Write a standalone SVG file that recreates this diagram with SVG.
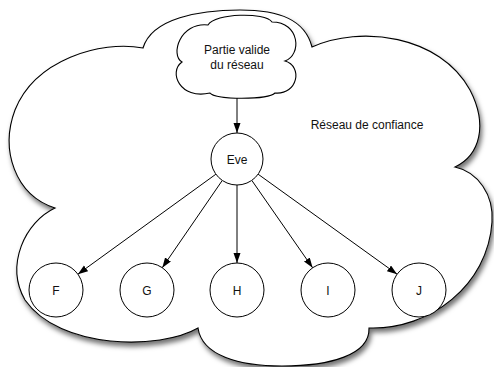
<svg xmlns="http://www.w3.org/2000/svg" width="494" height="367" viewBox="0 0 494 367">
  <defs>
    <filter id="shadow" x="-10%" y="-10%" width="125%" height="125%">
      <feDropShadow dx="2" dy="4" stdDeviation="2.5" flood-color="#000" flood-opacity="0.55"/>
    </filter>
    <marker id="arrow" markerUnits="userSpaceOnUse" markerWidth="11" markerHeight="8" refX="10" refY="3.5" orient="auto">
      <path d="M0,0 L10,3.5 L0,7 z" fill="#000"/>
    </marker>
    <style>
      .cloud { fill: #fff; stroke: #000; stroke-width: 1.1; }
      .node { fill: #fff; stroke: #000; stroke-width: 1; }
      .edge { stroke: #000; stroke-width: 1; fill: none; marker-end: url(#arrow); }
      .label { font-family: "Liberation Sans", Arial, sans-serif; font-size: 12px; fill: #111; text-anchor: middle; }
    </style>
  </defs>

  <rect width="494" height="367" fill="#fff"/>

  <!-- outer cloud: trust network -->
  <g id="reseau-confiance">
    <path class="cloud" filter="url(#shadow)" d="M143,48
      C152,18 200,10 240,10
      C280,10 305,20 312,47
      C360,25 440,35 470,90
      C488,125 480,155 455,167
      C478,172 494,195 492,222
      C488,285 430,330 369,328
      C370,355 330,366 282,366
      C240,366 202,356 198,328
      C160,350 60,350 25,300
      C5,265 25,222 55,208
      C15,195 0,150 15,110
      C35,60 100,40 143,48 Z"/>
    <text class="label" x="367" y="129">Réseau de confiance</text>
  </g>

  <!-- inner cloud: valid part of the network -->
  <g id="partie-valide">
    <path class="cloud" d="M182,62
      C170,55 180,22 208,25
      C215,13 265,12 272,22
      C300,22 302,55 285,61
      C303,66 298,95 275,93
      C268,100 215,100 210,93
      C180,100 168,72 182,62 Z"/>
    <text class="label" x="237" y="54">Partie valide</text>
    <text class="label" x="237" y="69">du réseau</text>
  </g>

  <g id="connectors">
    <line class="edge" x1="237" y1="98" x2="237" y2="133"/>
    <line class="edge" x1="215.9" y1="174.2" x2="77.9" y2="274.2"/>
    <line class="edge" x1="222.3" y1="180.4" x2="162.3" y2="267.7"/>
    <line class="edge" x1="237" y1="185" x2="237" y2="263"/>
    <line class="edge" x1="251.8" y1="180.4" x2="312.6" y2="267.8"/>
    <line class="edge" x1="258.1" y1="174.2" x2="397.1" y2="274.2"/>
  </g>

  <g id="eve">
    <circle class="node" cx="237" cy="159" r="26"/>
    <text class="label" x="237" y="163.5">Eve</text>
  </g>
  <g id="F">
    <circle class="node" cx="56" cy="290" r="27"/>
    <text class="label" x="56" y="294.5">F</text>
  </g>
  <g id="G">
    <circle class="node" cx="147" cy="290" r="27"/>
    <text class="label" x="147" y="294.5">G</text>
  </g>
  <g id="H">
    <circle class="node" cx="237" cy="290" r="27"/>
    <text class="label" x="237" y="294.5">H</text>
  </g>
  <g id="I">
    <circle class="node" cx="328" cy="290" r="27"/>
    <text class="label" x="328" y="294.5">I</text>
  </g>
  <g id="J">
    <circle class="node" cx="419" cy="290" r="27"/>
    <text class="label" x="419" y="294.5">J</text>
  </g>
</svg>
